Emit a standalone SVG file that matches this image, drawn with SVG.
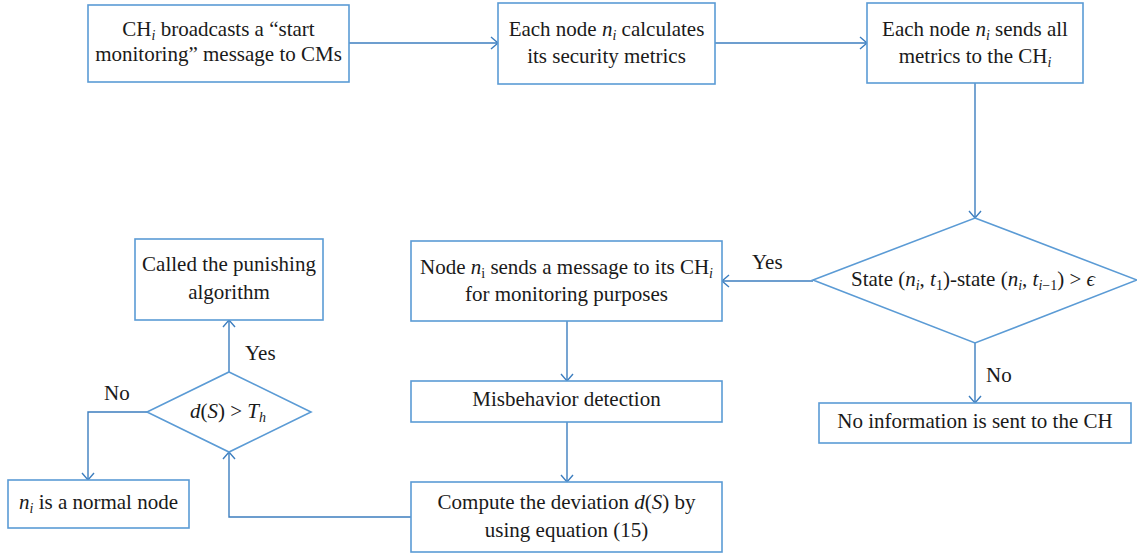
<svg xmlns="http://www.w3.org/2000/svg" width="1137" height="554" viewBox="0 0 1137 554" font-family="Liberation Serif, Times New Roman, serif">
  <style>
    .box { fill: #ffffff; stroke: #5b9bd5; stroke-width: 1.6; }
    .link { fill: none; stroke: #3d7ebf; stroke-width: 1.4; marker-end: url(#arrow); }
    text { font-size: 21px; fill: #1a1a1a; }
    .c { text-anchor: middle; }
    .it { font-style: italic; }
    .sub { font-size: 14px; }
  </style>
  <defs>
    <marker id="arrow" markerUnits="userSpaceOnUse" markerWidth="12" markerHeight="14" viewBox="0 0 12 14" refX="9" refY="7" orient="auto">
      <path d="M2,1 L9,7 L2,13" fill="none" stroke="#3d7ebf" stroke-width="1.4"/>
    </marker>
  </defs>
  <rect width="1137" height="554" fill="#ffffff"/>

  <!-- connectors and their branch labels -->
  <g id="connectors">
    <path class="link" d="M349,43 H498"/>
    <path class="link" d="M715,43 H867"/>
    <path class="link" d="M975,83 V218"/>
    <path class="link" d="M813,281 H722"/>
    <path class="link" d="M975,343 V403"/>
    <path class="link" d="M567,321 V381"/>
    <path class="link" d="M567,422 V482"/>
    <path class="link" d="M411,517 H229 V452"/>
    <path class="link" d="M229,372 V320"/>
    <path class="link" d="M147,412 H88 V480"/>
    <text x="752" y="269">Yes</text>
    <text x="986" y="382">No</text>
    <text x="245" y="360">Yes</text>
    <text x="104" y="400">No</text>
  </g>

  <g id="broadcast">
    <rect class="box" x="88" y="5" width="261" height="77"/>
    <text class="c" x="218.5" y="36">CH<tspan class="sub it" dy="4">i</tspan><tspan dy="-4"> broadcasts a “start</tspan></text>
    <text class="c" x="218.5" y="61">monitoring” message to CMs</text>
  </g>

  <g id="calculate">
    <rect class="box" x="498" y="3" width="217" height="81"/>
    <text class="c" x="606.5" y="36">Each node <tspan class="it">n</tspan><tspan class="sub it" dy="4">i</tspan><tspan dy="-4"> calculates</tspan></text>
    <text class="c" x="606.5" y="63">its security metrics</text>
  </g>

  <g id="send-metrics">
    <rect class="box" x="867" y="3" width="216" height="80"/>
    <text class="c" x="975" y="36">Each node <tspan class="it">n</tspan><tspan class="sub it" dy="4">i</tspan><tspan dy="-4"> sends all</tspan></text>
    <text class="c" x="975" y="63">metrics to the CH<tspan class="sub it" dy="4">i</tspan></text>
  </g>

  <g id="state-check">
    <polygon class="box" points="975,218 1137,280 975,343 813,280"/>
    <text class="c" x="973" y="286">State (<tspan class="it">n</tspan><tspan class="sub it" dy="4">i</tspan><tspan dy="-4">, </tspan><tspan class="it">t</tspan><tspan class="sub" dy="4">1</tspan><tspan dy="-4">)-state (</tspan><tspan class="it">n</tspan><tspan class="sub it" dy="4">i</tspan><tspan dy="-4">, </tspan><tspan class="it">t</tspan><tspan class="sub" dy="4"><tspan class="it">i</tspan>−1</tspan><tspan dy="-4">) &gt; </tspan><tspan class="it">ϵ</tspan></text>
  </g>

  <g id="no-info">
    <rect class="box" x="819" y="403" width="312" height="40"/>
    <text class="c" x="975" y="428">No information is sent to the CH</text>
  </g>

  <g id="notify-ch">
    <rect class="box" x="411" y="241" width="311" height="80"/>
    <text class="c" x="566.5" y="274">Node <tspan class="it">n</tspan><tspan class="sub" dy="4">i</tspan><tspan dy="-4"> sends a message to its CH</tspan><tspan class="sub it" dy="4">i</tspan></text>
    <text class="c" x="566.5" y="301">for monitoring purposes</text>
  </g>

  <g id="misbehavior">
    <rect class="box" x="411" y="381" width="311" height="41"/>
    <text class="c" x="566.5" y="406">Misbehavior detection</text>
  </g>

  <g id="deviation">
    <rect class="box" x="411" y="482" width="311" height="70"/>
    <text class="c" x="566.5" y="509">Compute the deviation <tspan class="it">d</tspan>(<tspan class="it">S</tspan>) by</text>
    <text class="c" x="566.5" y="537">using equation (15)</text>
  </g>

  <g id="threshold">
    <polygon class="box" points="229,372 311,412 229,452 147,412"/>
    <text class="c" x="228" y="418"><tspan class="it">d</tspan>(<tspan class="it">S</tspan>) &gt; <tspan class="it">T</tspan><tspan class="sub it" dy="4">h</tspan></text>
  </g>

  <g id="punish">
    <rect class="box" x="135" y="239" width="188" height="81"/>
    <text class="c" x="229" y="271">Called the punishing</text>
    <text class="c" x="229" y="299">algorithm</text>
  </g>

  <g id="normal">
    <rect class="box" x="8" y="480" width="181" height="48"/>
    <text class="c" x="98.5" y="509"><tspan class="it">n</tspan><tspan class="sub it" dy="4">i</tspan><tspan dy="-4"> is a normal node</tspan></text>
  </g>
</svg>
